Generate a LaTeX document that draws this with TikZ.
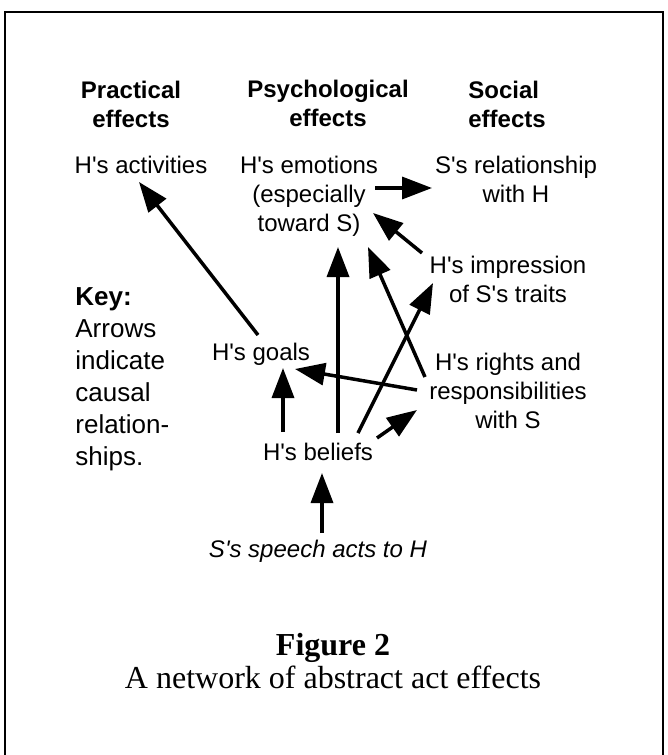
\documentclass[tikz,border=0pt]{standalone}
\usepackage{fontspec}
\setmainfont{Liberation Serif}
\setsansfont{Liberation Sans}[Ligatures=TeXOff]
\usetikzlibrary{arrows.meta,calc}

\begin{document}
\begin{tikzpicture}[
  x=0.5pt, y=-0.5pt,
  every node/.style={inner sep=0pt, font=\sffamily\fontsize{12}{14.5}\selectfont},
  head/.style={font=\sffamily\bfseries\fontsize{12}{14.5}\selectfont, align=center, anchor=base},
  effect/.style={align=center, anchor=base},
  keytext/.style={font=\sffamily\fontsize{13}{16}\selectfont, align=left, anchor=base west},
  caption/.style={font=\rmfamily\fontsize{16}{16.5}\selectfont, align=center, anchor=base},
  % causal links: thick line, large solid triangle head
  arrow/.style={line width=1.75pt, -{Triangle[length=15pt, width=11pt]}},
  frame/.style={line width=1pt}]

  \useasboundingbox (0,0) rectangle (668,755);
  \draw[frame] (5,755) -- (5,12) -- (663,12) -- (663,755);

  % column headings (base = last line)
  \node[head] (hprac)  at (131,127) {Practical\\effects};
  \node[head] (hpsych) at (328,126) {Psychological\\effects};
  \node[head, align=left, anchor=base west] (hsoc) at (468,127) {Social\\effects};

  % effects
  \node[effect] (activities) at (141,173) {H's activities};
  \node[effect] (emotions)   at (309,231) {H's emotions\\(especially\\toward S)};
  \node[effect] (relation)   at (516,202) {S's relationship\\with H};
  \node[effect] (impression) at (508,302) {H's impression\\of S's traits};
  \node[effect] (rights)     at (508,428) {H's rights and\\responsibilities\\with S};
  \node[effect] (goals)      at (261,360) {H's goals};
  \node[effect] (beliefs)    at (318,460) {H's beliefs};
  \node[effect, font=\sffamily\itshape\fontsize{12}{14.5}\selectfont] (speech) at (318,557) {S's speech acts to H};

  % key
  \node[keytext] (key) at (75,465) {\textbf{Key:}\\Arrows\\indicate\\causal\\relation-\\ships.};

  % arrows
  \draw[arrow] ($(emotions.base)+(66,-43)$)   -- ($(relation.base)+(-84,-14)$);
  \draw[arrow] ($(goals.base)+(-3,-25)$)      -- ($(activities.base)+(-2,9)$);
  \draw[arrow] ($(impression.base)+(-86,-49)$) -- ($(emotions.base)+(64,-18)$);
  \draw[arrow] ($(beliefs.base)+(20,-27)$)    -- ($(emotions.base)+(29,16)$);
  \draw[arrow] ($(rights.base)+(-83,-51)$)    -- ($(emotions.base)+(59,16)$);
  \draw[arrow] ($(beliefs.base)+(40,-27)$)    -- ($(impression.base)+(-75,-19)$);
  \draw[arrow] ($(beliefs.base)+(59,-22)$)    -- ($(rights.base)+(-91,-18)$);
  \draw[arrow] ($(beliefs.base)+(-35,-28)$)   -- ($(goals.base)+(22,8)$);
  \draw[arrow] ($(rights.base)+(-91,-38)$)    -- ($(goals.base)+(34,9)$);
  \draw[arrow] ($(speech.base)+(4,-24)$)      -- ($(beliefs.base)+(4,13)$);

  % caption
  \node[caption] (cap) at (333,688) {\textbf{Figure 2}\\A network of abstract act effects};
\end{tikzpicture}
\end{document}
